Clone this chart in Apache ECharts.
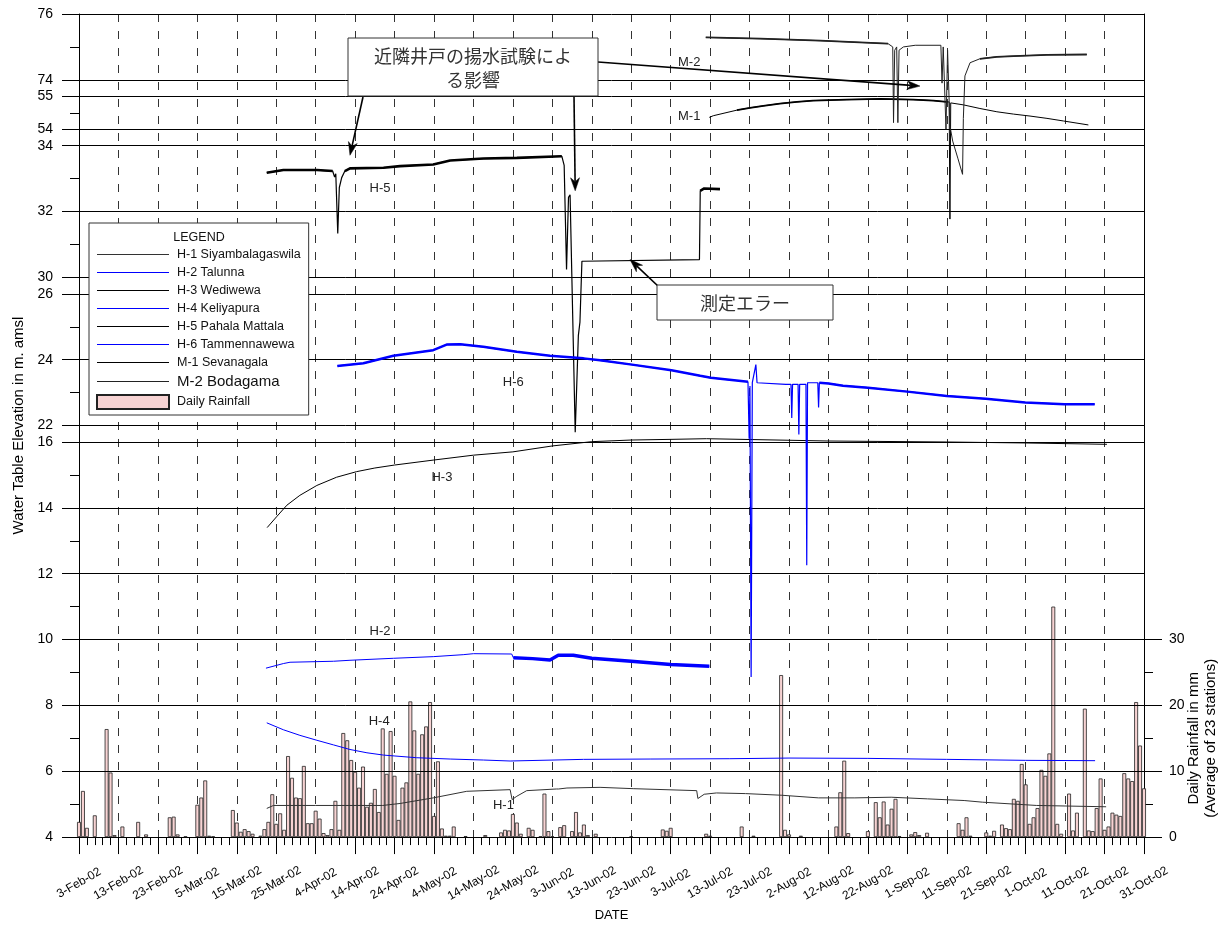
<!DOCTYPE html>
<html>
<head>
<meta charset="utf-8">
<script src="https://cdn.jsdelivr.net/npm/echarts@6/dist/echarts.min.js"></script>
<style>
  html, body { margin: 0; padding: 0; background: #fff; }
  #chart { width: 1223px; height: 927px; }
</style>
</head>
<body>
<div id="chart"></div>
<script>
const FONT = '"Liberation Sans", Arial, sans-serif';
const CJK = '"Noto Sans CJK JP", "Noto Sans CJK SC", sans-serif';

// ---- x axis: days counted from 3-Feb-02 ----
const dateLabels = [
  '3-Feb-02', '13-Feb-02', '23-Feb-02', '5-Mar-02', '15-Mar-02', '25-Mar-02', '4-Apr-02',
  '14-Apr-02', '24-Apr-02', '4-May-02', '14-May-02', '24-May-02', '3-Jun-02', '13-Jun-02',
  '23-Jun-02', '3-Jul-02', '13-Jul-02', '23-Jul-02', '2-Aug-02', '12-Aug-02', '22-Aug-02',
  '1-Sep-02', '11-Sep-02', '21-Sep-02', '1-Oct-02', '11-Oct-02', '21-Oct-02', '31-Oct-02'
];

// ---- broken elevation axis: each band is stacked on one continuous scale ----
const axisSegments = [
  { from: 4,  to: 16, shift: 0 },
  { from: 22, to: 26, shift: -5.5 },
  { from: 30, to: 34, shift: -9 },
  { from: 54, to: 55, shift: -28.5 },
  { from: 74, to: 76, shift: -47 }
];
const leftTickLabels = [4, 6, 8, 10, 12, 14, 16, 22, 24, 26, 30, 32, 34, 54, 55, 74, 76];
const leftMinorTicks = [5, 7, 9, 11, 13, 15, 23, 25, 31, 33, 54.5, 75];
const rainTickLabels = [0, 10, 20, 30];
const rainMinorTicks = [5, 15, 25];

// ---- water levels, [day, elevation m amsl] ----
const h1 = [[47.6,4.87],[49.3,4.96],[60,4.96],[77,4.96],[81.4,5.02],[89.8,5.19],[98.3,5.39],[109.3,5.44],
  [109.8,5.14],[111,5.24],[113.5,5.41],[121,5.46],[121.3,5.41],[121.6,5.46],[123.7,5.49],[132.1,5.51],
  [140.5,5.47],[156.6,5.41],[156.9,5.17],[158.5,5.30],[161.6,5.34],[169,5.32],[178.2,5.27],[187.5,5.19],
  [196.7,5.19],[205.9,5.21],[215.1,5.16],[224.4,5.11],[229,5.06],[242.8,4.96],[260.4,4.92]];
const h2 = [[47.4,9.13],[51.8,9.27],[53.5,9.31],[64.5,9.34],[68.7,9.37],[79.7,9.43],[89.8,9.48],[97.4,9.54],
  [100,9.57],[109.7,9.56],[110.1,9.45],[115,9.42],[119.4,9.38],[121.5,9.52],[125.3,9.52],[130,9.43],
  [140,9.34],[150,9.24],[159.8,9.19]];
const h3 = [[47.7,13.40],[50.1,13.73],[52.7,14.08],[56,14.38],[60.3,14.68],[65.3,14.93],[70.4,15.10],
  [75,15.21],[80,15.30],[89.8,15.45],[100,15.60],[110,15.70],[120,15.88],[130,16.01],[140,16.06],
  [150,16.08],[159.1,16.10],[159.4,16.04],[190,16.03],[220,16.0],[240,15.97],[260.6,15.93]];
const h4 = [[47.6,7.47],[51.8,7.26],[56,7.09],[60.3,6.94],[64.5,6.80],[68.7,6.66],[73,6.56],[77.2,6.49],
  [85.6,6.41],[94.1,6.37],[102.5,6.34],[109.3,6.31],[109.8,6.36],[127.9,6.36],[144.8,6.37],[165,6.38],
  [180,6.40],[200,6.39],[220,6.36],[240,6.33],[257.6,6.32]];
const h5 = [[47.6,33.18],[51.8,33.26],[60.3,33.26],[64.3,33.23],[64.8,33.05],[65.1,33.15],[65.6,31.33],
  [66.0,32.73],[66.6,33.03],[67.4,33.23],[68.7,33.31],[77.2,33.33],[81.4,33.38],[89.8,33.43],[94.1,33.55],
  [102.5,33.61],[111,33.63],[122.4,33.68],[123.0,33.40],[123.6,30.24],[124.1,32.43],[124.5,32.51],
  [125.8,25.30],[126.6,28.24],[127,28.64],[127.5,30.49],[127.9,30.54],[157.3,30.54],[157.5,32.63],
  [158.5,32.70],[162.5,32.68]];
const h6 = [[65.5,23.81],[72.1,23.89],[79.7,24.12],[89.8,24.29],[93.2,24.46],[96.6,24.47],[102.5,24.39],
  [111,24.24],[119.4,24.12],[127.9,24.04],[132.1,23.98],[140.2,23.85],[150.2,23.68],[157.5,23.51],
  [160.2,23.45],[169.6,23.33],[169.9,21.6],[170.1,23.2],[170.4,14.36],[170.7,23.3],[171.6,23.85],
  [171.9,23.3],[179.2,23.25],[180.5,23.25],[180.7,22.23],[180.9,23.25],[182.3,23.25],[182.5,21.73],
  [182.7,23.25],[184.3,23.25],[184.5,17.76],[184.7,23.3],[187.3,23.3],[187.5,22.55],[187.7,23.3],
  [190,23.28],[193.7,23.21],[200,23.15],[210,23.03],[220,22.9],[229.9,22.81],[239.9,22.70],
  [249.8,22.65],[257.5,22.65]];
const m1 = [[159.8,54.36],[160.8,54.41],[166.8,54.58],[170.1,54.65],[173.5,54.71],[177.7,54.78],[182,54.83],
  [186.1,54.87],[194.6,54.9],[203.1,54.92],[211.5,54.9],[216.6,54.87],[220,54.83],[220.6,54.83],
  [220.8,51.27],[221.0,54.8],[224.2,54.74],[228.4,54.63],[232.7,54.53],[236.9,54.46],[241.1,54.40],
  [245.4,54.33],[249.6,54.25],[255.9,54.13]];
const m2 = [[158.9,75.29],[172.7,75.25],[187.9,75.19],[205.1,75.10],[206.3,75.0],[206.5,72.7],[206.8,74.9],
  [207.3,75.0],[207.6,72.7],[207.9,74.9],[209,75.0],[212,75.05],[218.5,75.05],[218.8,73.9],[219.1,75.0],
  [219.5,75.0],[219.8,72.5],[220.2,74.9],[220.6,74.9],[220.8,72.6],[221.5,72.14],[222.8,71.62],
  [224,71.13],[224.2,72.83],[224.6,74.12],[225.9,74.52],[228.4,74.64],[232.7,74.70],[236.9,74.72],
  [245.4,74.76],[255.5,74.77]];

// ---- daily rainfall (mm, mean of 23 stations), one value per day from 3-Feb-02 ----
const rainfall = [
  2.3, 7.0, 1.4, 0, 3.3, 0, 0, 16.4, 9.8, 0.3,        // 3-Feb
  0, 1.6, 0, 0, 0, 2.3, 0, 0.4, 0, 0,                 // 13-Feb
  0, 0, 0, 3.0, 3.1, 0.4, 0, 0.1, 0, 0,               // 23-Feb
  4.9, 6.0, 8.6, 0.2, 0.1, 0, 0, 0, 0, 4.1,           // 5-Mar
  2.2, 0.8, 1.2, 0.9, 0.5, 0, 0.2, 1.2, 2.3, 6.5,     // 15-Mar
  2.0, 3.6, 1.1, 12.3, 9.0, 6.0, 5.9, 10.8, 2.1, 2.1, // 25-Mar
  4.0, 2.8, 0.6, 0.3, 1.2, 5.5, 1.1, 15.8, 14.7, 11.7,// 4-Apr
  9.9, 7.5, 10.7, 4.6, 5.2, 7.3, 3.8, 16.5, 9.6, 16.1,// 14-Apr
  9.3, 2.6, 7.5, 8.3, 20.6, 16.2, 9.6, 15.6, 16.8, 20.5, // 24-Apr
  3.2, 11.5, 1.3, 0.2, 0.2, 1.6, 0, 0, 0.15, 0,       // 4-May
  0, 0, 0, 0.3, 0, 0, 0, 0.7, 1.1, 1.0,               // 14-May
  3.5, 2.2, 0.5, 0, 1.4, 1.1, 0, 0.1, 6.6, 0.9,       // 24-May
  0.1, 0, 1.5, 1.8, 0, 0.9, 3.8, 0.7, 1.9, 0.3,       // 3-Jun
  0, 0.5, 0, 0, 0, 0, 0, 0, 0, 0,                     // 13-Jun
  0.1, 0, 0, 0, 0, 0, 0, 0, 1.15, 0.95,               // 23-Jun
  1.4, 0, 0, 0, 0, 0, 0, 0, 0, 0.5,                   // 3-Jul
  0.2, 0, 0, 0, 0, 0, 0, 0, 1.6, 0,                   // 13-Jul
  0, 0.2, 0, 0, 0, 0, 0, 0, 24.6, 1.1,                // 23-Jul
  0.4, 0, 0, 0.2, 0, 0, 0, 0, 0, 0,                   // 2-Aug
  0, 0, 1.6, 6.8, 11.6, 0.6, 0, 0, 0, 0,              // 12-Aug
  0.9, 0, 5.3, 3.0, 5.4, 1.9, 4.3, 5.8, 0.15, 0,      // 22-Aug
  0, 0.4, 0.75, 0.3, 0, 0.65, 0, 0, 0, 0,             // 1-Sep
  0, 0, 0, 2.1, 1.1, 3.0, 0.2, 0, 0, 0,               // 11-Sep
  0.7, 0.2, 0.95, 0, 1.9, 1.35, 1.2, 5.8, 5.5, 11.1,  // 21-Sep
  8.0, 2.0, 3.0, 4.4, 10.2, 9.3, 12.7, 35.0, 2.0, 0.5,// 1-Oct
  0, 6.6, 1.0, 3.7, 0, 19.5, 1.0, 0.9, 4.4, 8.9,      // 11-Oct
  1.1, 1.6, 3.7, 3.4, 3.2, 9.7, 8.9, 8.5, 20.5, 13.9, // 21-Oct
  7.4                                                 // 31-Oct
];

// ---- wells: band shift places each record on the stacked axis ----
const wells = [
  { name: 'H-1 Siyambalagaswila', data: h1, shift: 0,     color: '#333', width: 1 },
  { name: 'H-2 Talunna',          data: h2, shift: 0,     color: '#0000ff', width: 1, noisy: [[110.1, 159.8]], noisyWidth: 3.5 },
  { name: 'H-3 Wediwewa',         data: h3, shift: 0,     color: '#000', width: 1 },
  { name: 'H-4 Keliyapura',       data: h4, shift: 0,     color: '#0000ff', width: 1 },
  { name: 'H-5 Pahala Mattala',   data: h5, shift: -9,    color: '#000', width: 1.2, noisy: [[47.6, 64.3], [67.4, 122.4], [157.5, 162.5]], noisyWidth: 2.6 },
  { name: 'H-6 Tammennawewa',     data: h6, shift: -5.5,  color: '#0000ff', width: 1.2, noisy: [[65.5, 169.6], [187.7, 257.5]], noisyWidth: 2.5 },
  { name: 'M-1 Sevanagala',       data: m1, shift: -28.5, color: '#000', width: 1, noisy: [[166, 220]], noisyWidth: 1.8 },
  { name: 'M-2 Bodagama',         data: m2, shift: -47,   color: '#222', width: 1, noisy: [[158.9, 205.1], [226, 255.5]], noisyWidth: 1.8 }
];

// ---- well tags drawn next to each trace ----
const wellTags = [
  { text: 'H-5', day: 76.3,  value: 32.70, shift: -9 },
  { text: 'H-6', day: 110.1, value: 23.30, shift: -5.5 },
  { text: 'H-3', day: 92.0,  value: 14.91, shift: 0 },
  { text: 'H-2', day: 76.3,  value: 10.26, shift: 0 },
  { text: 'H-4', day: 76.1,  value: 7.52,  shift: 0 },
  { text: 'H-1', day: 107.6, value: 4.95,  shift: 0 },
  { text: 'M-2', day: 154.7, value: 74.52, shift: -47 },
  { text: 'M-1', day: 154.7, value: 54.39, shift: -28.5 }
];

// ---- callouts ----
const callouts = [
  {
    box: [348, 38, 250, 58],
    text: '近隣井戸の揚水試験によ\nる影響',
    arrows: [
      { from: [363, 97], day: 68.7,  value: 33.71, shift: -9 },
      { from: [574, 96], day: 125.8, value: 32.63, shift: -9 },
      { from: [598, 62], day: 213.2, value: 73.81, shift: -47 }
    ]
  },
  {
    box: [657, 285, 176, 35],
    text: '測定エラー',
    arrows: [ { from: [659, 287], day: 139.7, value: 30.54, shift: -9 } ]
  }
];

function tickPos(v) {
  const s = axisSegments.find(seg => v >= seg.from && v <= seg.to);
  return v + s.shift;
}
function tickText(p) {
  const s = axisSegments.find(seg => p >= seg.from + seg.shift - 1e-6 && p <= seg.to + seg.shift + 1e-6);
  return s ? String(Math.round((p - s.shift) * 10) / 10) : '';
}
const gridPositions = leftTickLabels.slice(1).map(tickPos);

const series = [];
series.push({
  type: 'bar',
  name: 'Daily Rainfall',
  xAxisIndex: 0,
  yAxisIndex: 1,
  data: rainfall.map((v, i) => [i, v]).filter(p => p[1] > 0),
  barWidth: 3.9,
  itemStyle: { color: '#f7d3d3', borderColor: '#222', borderWidth: 0.8 },
  z: 1,
  silent: true
});
wells.forEach((w, idx) => {
  const shifted = w.data.map(p => [p[0], +(p[1] + w.shift).toFixed(4)]);
  const s = {
    type: 'line',
    name: w.name,
    data: shifted,
    symbol: 'none',
    showSymbol: false,
    lineStyle: { color: w.color, width: w.width },
    itemStyle: { color: w.color },
    z: 3,
    silent: true
  };
  if (idx === 2) {
    s.markLine = {
      silent: true,
      symbol: ['none', 'none'],
      label: { show: false },
      lineStyle: { color: '#000', width: 1, type: 'solid' },
      data: gridPositions.map(v => ({ yAxis: v })),
      z: 2
    };
  }
  series.push(s);
  (w.noisy || []).forEach(r => {
    series.push({
      type: 'line',
      name: w.name,
      data: shifted.filter(p => p[0] >= r[0] && p[0] <= r[1]),
      symbol: 'none',
      showSymbol: false,
      lineStyle: { color: w.color, width: w.noisyWidth },
      itemStyle: { color: w.color },
      z: 3,
      silent: true
    });
  });
});

// thin bar used as the legend sample for each trace
const LINE_ICON = 'path://M0,0H72V1.2H0Z';

const chart = echarts.init(document.getElementById('chart'), null, { renderer: 'canvas' });

const option = {
  animation: false,
  backgroundColor: '#fff',
  textStyle: { fontFamily: FONT },
  grid: { left: 79, right: 79, top: 14, bottom: 79 },
  xAxis: {
    type: 'value',
    min: 0,
    max: 270,
    interval: 10,
    name: 'DATE',
    nameLocation: 'middle',
    nameGap: 68,
    nameTextStyle: { fontFamily: FONT, fontSize: 13, color: '#000' },
    axisLine: { lineStyle: { color: '#000', width: 1 } },
    axisTick: { length: 17, lineStyle: { color: '#000' } },
    minorTick: { show: true, splitNumber: 5, length: 8, lineStyle: { color: '#000' } },
    splitLine: { show: true, lineStyle: { color: '#333', width: 1, type: [8, 9] } },
    axisLabel: {
      rotate: 30,
      align: 'center',
      verticalAlign: 'middle',
      margin: 46,
      fontSize: 12,
      color: '#000',
      fontFamily: FONT,
      formatter: v => dateLabels[Math.round(v / 10)] || ''
    }
  },
  yAxis: [
    {
      type: 'value',
      min: 4,
      max: 29,
      position: 'left',
      name: 'Water Table Elevation in m. amsl',
      nameLocation: 'middle',
      nameRotate: 90,
      nameGap: 52,
      nameTextStyle: { fontFamily: FONT, fontSize: 15, color: '#000' },
      axisLine: { show: true, lineStyle: { color: '#000', width: 1 } },
      axisTick: { show: true, length: 17, customValues: leftTickLabels.map(tickPos), lineStyle: { color: '#000' } },
      axisLabel: {
        customValues: leftTickLabels.map(tickPos),
        formatter: tickText,
        margin: 26,
        fontSize: 14,
        color: '#000',
        fontFamily: FONT
      },
      splitLine: { show: false }
    },
    {
      type: 'value',
      min: 0,
      max: 125,
      position: 'right',
      axisLine: { show: true, lineStyle: { color: '#000', width: 1 } },
      axisTick: { show: true, length: 18, customValues: rainTickLabels, lineStyle: { color: '#000' } },
      axisLabel: {
        customValues: rainTickLabels,
        margin: 25,
        fontSize: 14,
        color: '#000',
        fontFamily: FONT
      },
      splitLine: { show: false }
    },
    {
      type: 'value',
      min: 4,
      max: 29,
      position: 'left',
      offset: 0,
      axisLine: { show: false },
      axisTick: { show: true, length: 9, customValues: leftMinorTicks.map(tickPos), lineStyle: { color: '#000' } },
      axisLabel: { show: false },
      splitLine: { show: false }
    },
    {
      type: 'value',
      min: 0,
      max: 125,
      position: 'right',
      offset: 0,
      axisLine: { show: false },
      axisTick: { show: true, length: 9, customValues: rainMinorTicks, lineStyle: { color: '#000' } },
      axisLabel: { show: false },
      splitLine: { show: false }
    }
  ],
  legend: {
    orient: 'vertical',
    left: 89,
    top: 223,
    padding: [25, 8, 5, 7],
    itemGap: 5,
    itemWidth: 72,
    itemHeight: 14,
    backgroundColor: '#fff',
    borderColor: '#333',
    borderWidth: 1,
    borderRadius: 0,
    selectedMode: false,
    textStyle: { fontFamily: FONT, fontSize: 12.5, color: '#111', padding: [0, 0, 0, 3] },
    data: [
      { name: 'H-1 Siyambalagaswila', icon: LINE_ICON },
      { name: 'H-2 Talunna', icon: LINE_ICON },
      { name: 'H-3 Wediwewa', icon: LINE_ICON },
      { name: 'H-4 Keliyapura', icon: LINE_ICON },
      { name: 'H-5 Pahala Mattala', icon: LINE_ICON },
      { name: 'H-6 Tammennawewa', icon: LINE_ICON },
      { name: 'M-1 Sevanagala', icon: LINE_ICON },
      { name: 'M-2 Bodagama', icon: LINE_ICON, textStyle: { fontSize: 15 } },
      { name: 'Daily Rainfall', icon: 'rect' }
    ]
  },
  series: series
};

chart.setOption(option);

// ---- overlays placed through the chart's own coordinate conversion ----
function toPixel(day, value, shift) {
  return chart.convertToPixel({ xAxisIndex: 0, yAxisIndex: 0 }, [day, value + shift]);
}
function arrowShapes(from, to) {
  const dx = to[0] - from[0], dy = to[1] - from[1];
  const len = Math.hypot(dx, dy);
  const ux = dx / len, uy = dy / len;
  const nx = -uy, ny = ux;
  const head = 13, half = 4.5;
  const bx = to[0] - ux * head, by = to[1] - uy * head;
  const nxp = to[0] - ux * head * 0.7, nyp = to[1] - uy * head * 0.7;
  return [
    { type: 'line', silent: true, z: 60,
      shape: { x1: from[0], y1: from[1], x2: nxp, y2: nyp },
      style: { stroke: '#000', lineWidth: 1.6 } },
    { type: 'polygon', silent: true, z: 60,
      shape: { points: [to, [bx + nx * half, by + ny * half], [nxp, nyp], [bx - nx * half, by - ny * half]] },
      style: { fill: '#000', stroke: '#000', lineWidth: 0.5 } }
  ];
}

const graphics = [];
// legend caption
graphics.push({
  type: 'text', silent: true, z: 100, x: 199, y: 238,
  style: { text: 'LEGEND', fontFamily: FONT, fontSize: 12.5, fill: '#111', align: 'center', verticalAlign: 'middle' }
});
// rainfall axis title
const rainMid = chart.convertToPixel({ yAxisIndex: 1 }, 15);
graphics.push({
  type: 'text', silent: true, z: 50, x: 1202, y: rainMid, rotation: Math.PI / 2,
  style: {
    text: 'Daily Rainfall in mm\n(Average of 23 stations)',
    fontFamily: FONT, fontSize: 15, lineHeight: 17, fill: '#000', align: 'center', verticalAlign: 'middle'
  }
});
// well tags
wellTags.forEach(t => {
  const p = toPixel(t.day, t.value, t.shift);
  graphics.push({
    type: 'text', silent: true, z: 40, x: p[0], y: p[1],
    style: { text: t.text, fontFamily: FONT, fontSize: 13, fill: '#222', align: 'center', verticalAlign: 'middle' }
  });
});
// callout boxes and arrows
callouts.forEach(c => {
  const [bx, by, bw, bh] = c.box;
  c.arrows.forEach(a => {
    graphics.push(...arrowShapes(a.from, toPixel(a.day, a.value, a.shift)));
  });
  graphics.push({
    type: 'rect', silent: true, z: 70,
    shape: { x: bx, y: by, width: bw, height: bh },
    style: { fill: '#fff', stroke: '#333', lineWidth: 1 }
  });
  graphics.push({
    type: 'text', silent: true, z: 71, x: bx + bw / 2, y: by + bh / 2 + 1,
    style: { text: c.text, fontFamily: CJK, fontSize: 18, lineHeight: 24, fill: '#333', align: 'center', verticalAlign: 'middle' }
  });
});

chart.setOption({ graphic: graphics });
</script>
</body>
</html>
